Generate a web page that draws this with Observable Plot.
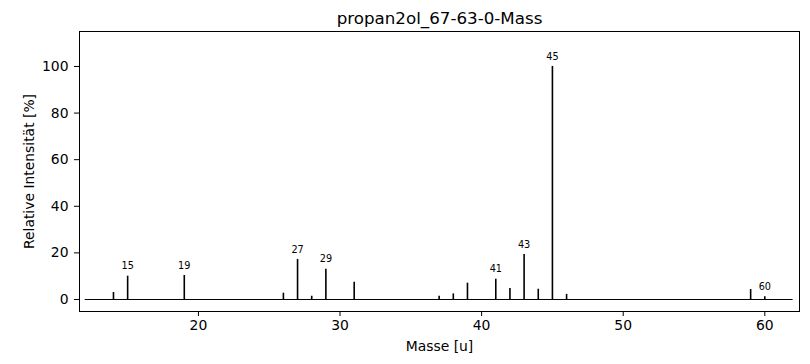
<!DOCTYPE html>
<html>
<head>
<meta charset="utf-8">
<script src="https://cdn.jsdelivr.net/npm/d3@7"></script>
<script src="https://cdn.jsdelivr.net/npm/@observablehq/plot@0.6"></script>
<style>
  html, body { margin: 0; padding: 0; background: #fff; }
  #chart svg { font-family: "DejaVu Sans", sans-serif; display: block; }
</style>
</head>
<body>
<div id="chart"></div>
<script>
const title = "propan2ol_67-63-0-Mass";
const masses = [14, 15, 19, 26, 27, 28, 29, 31, 37, 38, 39, 41, 42, 43, 44, 45, 46, 59, 60];
const intensities = [3.0, 10.0, 10.3, 2.7, 17.2, 1.4, 13.0, 7.4, 1.4, 2.4, 7.0, 8.7, 4.7, 19.3, 4.4, 100, 2.2, 4.3, 1.2];
const labeledMasses = [15, 19, 27, 29, 41, 43, 45, 60];
const baselineRange = [12, 62];
const xTicks = [20, 30, 40, 50, 60];
const yTicks = [0, 20, 40, 60, 80, 100];

const data = masses.map((m, i) => ({mass: m, value: intensities[i]}));
const labeled = data.filter(d => labeledMasses.includes(d.mass));

const chart = Plot.plot({
  width: 810,
  height: 364,
  marginLeft: 79,
  marginRight: 11,
  marginTop: 31,
  marginBottom: 53,
  style: {fontFamily: "DejaVu Sans, sans-serif", fontSize: "13.9px", color: "#000", background: "#fff"},
  x: {domain: [11.6, 62.45], ticks: xTicks, label: null},
  y: {domain: [-5.15, 115], ticks: yTicks, label: null},
  marks: [
    Plot.ruleY([0], {x1: baselineRange[0], x2: baselineRange[1], stroke: "black", strokeWidth: 1}),
    Plot.ruleX(data, {x: "mass", y1: 0, y2: "value", stroke: "black", strokeWidth: 1.6}),
    Plot.text(labeled, {x: "mass", y: "value", text: d => String(d.mass), dy: -10, fontSize: 9.7, fill: "black"}),
    Plot.frame({stroke: "black", strokeWidth: 1}),
    Plot.axisX({ticks: xTicks, tickSize: 5, tickPadding: 4, fontSize: 13.9, label: null}),
    Plot.axisY({ticks: yTicks, tickSize: 5, tickPadding: 6, fontSize: 13.9, label: null}),
    Plot.text([title], {frameAnchor: "top", lineAnchor: "middle", dy: -13, fontSize: 16.7, fill: "black"}),
    Plot.text(["Masse [u]"], {frameAnchor: "bottom", lineAnchor: "middle", dy: 35, fontSize: 13.9, fill: "black"}),
    Plot.text(["Relative Intensität [%]"], {frameAnchor: "left", textAnchor: "middle", lineAnchor: "middle", dx: -50, rotate: -90, fontSize: 13.9, fill: "black"})
  ]
});
document.getElementById("chart").appendChild(chart);
</script>
</body>
</html>
